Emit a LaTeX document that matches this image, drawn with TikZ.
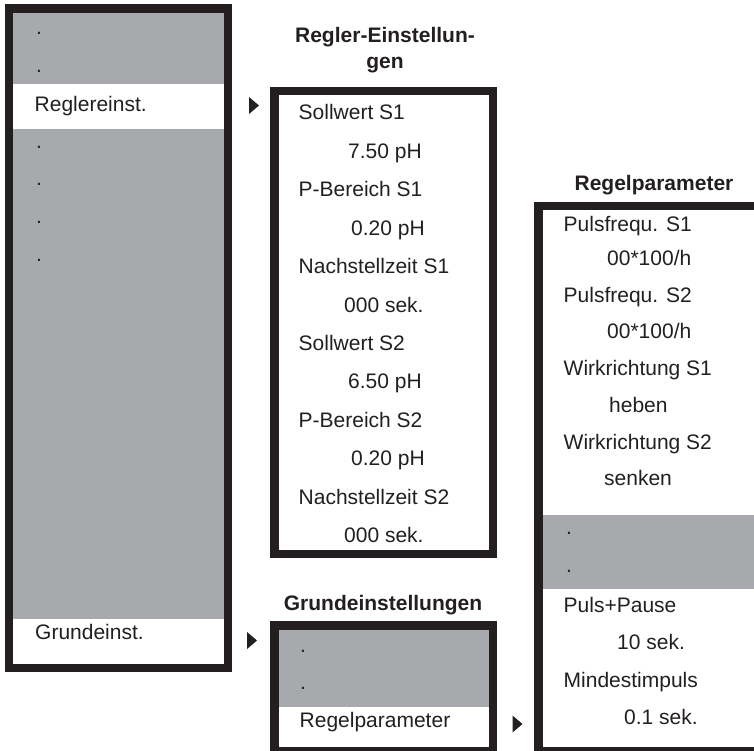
\documentclass[tikz,border=0pt]{standalone}
\usepackage{fontspec}
\setmainfont{Liberation Sans}
\usetikzlibrary{positioning}
\definecolor{menugray}{RGB}{167,169,172}
\definecolor{framecol}{RGB}{35,31,32}

\begin{document}
\begin{tikzpicture}[x=1pt, y=-1pt, font=\fontsize{21}{26}\selectfont,
	item/.style={anchor=base west, inner sep=0pt, text=framecol},
	title/.style={inner sep=0pt, align=center, text=framecol, font=\fontsize{21}{26}\selectfont\bfseries},
	frame/.style={draw=framecol, line width=8.5pt},
	marker/.style={fill=framecol}]
	\useasboundingbox (0,0) rectangle (754,751);
	\clip (0,0) rectangle (754,751);
	% main menu
	\fill[menugray] (9,8.75) rectangle (228,668);
	\fill[white] (9,84) rectangle (228,129);
	\fill[white] (9,619) rectangle (228,668);
	\draw[frame] (9,8.75) rectangle (228,668);
	\node[item] (m1) at (36,35) {.};
	\node[item] (m2) at (36,73) {.};
	\node[item] (regler) at (34.5,112) {Reglereinst.};
	\node[item] (m4) at (36,149) {.};
	\node[item] (m5) at (36,186) {.};
	\node[item] (m6) at (36,223) {.};
	\node[item] (m7) at (36,261) {.};
	\node[item] (grund) at (35,639) {Grundeinst.};
	\fill[marker] (249,97) -- (259,105.5) -- (249,114) -- cycle;
	\fill[marker] (247,632) -- (257,640.5) -- (247,649) -- cycle;
	% Regler-Einstellungen
	\node[title, anchor=north] (t1) at (385,27) {Regler-Einstellun-\\gen};
	\draw[frame] (274.25,91.25) rectangle (492.75,553.75);
	\node[item] (r1) at (298.5,120) {Sollwert S1};
	\node[item] (r2) at (348,158.4) {7.50 pH};
	\node[item] (r3) at (298.5,196.8) {P-Bereich S1};
	\node[item] (r4) at (351,235.2) {0.20 pH};
	\node[item] (r5) at (298.5,273.6) {Nachstellzeit S1};
	\node[item] (r6) at (344,312) {000 sek.};
	\node[item] (r7) at (298.5,350.4) {Sollwert S2};
	\node[item] (r8) at (348,388.8) {6.50 pH};
	\node[item] (r9) at (298.5,427.2) {P-Bereich S2};
	\node[item] (r10) at (351,465.6) {0.20 pH};
	\node[item] (r11) at (298.5,504) {Nachstellzeit S2};
	\node[item] (r12) at (344,542.4) {000 sek.};
	% Grundeinstellungen
	\node[title, anchor=base] (t2) at (383,610) {Grundeinstellungen};
	\fill[menugray] (274.25,625.25) rectangle (492.75,707);
	\draw[frame] (274.25,625.25) rectangle (492.75,751.25);
	\node[item] (g1) at (300,652) {.};
	\node[item] (g2) at (300,689) {.};
	\node[item] (g3) at (299.5,727) {Regelparameter};
	\fill[marker] (512.5,715.5) -- (522.5,724) -- (512.5,732.5) -- cycle;
	% Regelparameter
	\node[title, anchor=base] (t3) at (654,191) {Regelparameter};
	\fill[menugray] (538.25,515) rectangle (762,589);
	\draw[frame] (538.25,206.25) rectangle (762,751.25);
	\node[item] (p1) at (563.5,232) {Pulsfrequ. S1};
	\node[item] (p2) at (607,265.5) {00*100/h};
	\node[item] (p3) at (563.5,302.5) {Pulsfrequ. S2};
	\node[item] (p4) at (607,338.5) {00*100/h};
	\node[item] (p5) at (563.5,375.5) {Wirkrichtung S1};
	\node[item] (p6) at (609,412.5) {heben};
	\node[item] (p7) at (563.5,449.5) {Wirkrichtung S2};
	\node[item] (p8) at (604,485.5) {senken};
	\node[item] (p9) at (566,534) {.};
	\node[item] (p10) at (566,572) {.};
	\node[item] (p11) at (563.5,612) {Puls+Pause};
	\node[item] (p12) at (617,649.5) {10 sek.};
	\node[item] (p13) at (563.5,687) {Mindestimpuls};
	\node[item] (p14) at (624,724.5) {0.1 sek.};
\end{tikzpicture}
\end{document}
